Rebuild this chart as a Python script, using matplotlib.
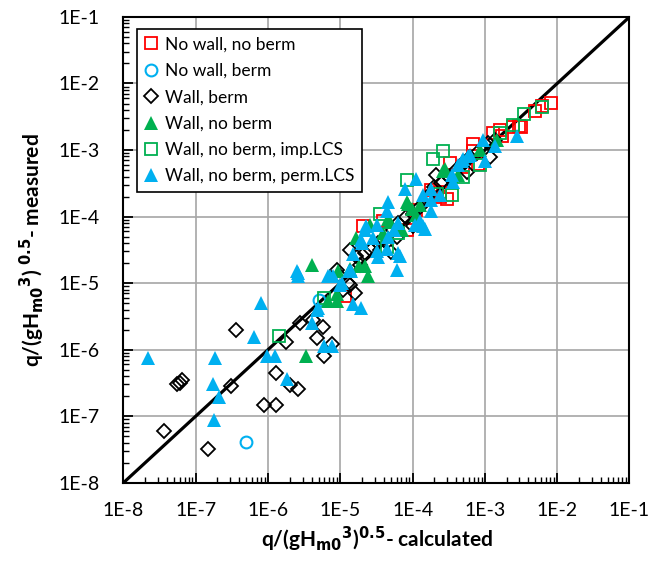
import matplotlib
matplotlib.use('Agg')
import matplotlib.pyplot as plt
import matplotlib.ticker as mticker

plt.rcParams['font.family'] = ['Lato', 'DejaVu Sans']

# No wall, no berm (red squares)
nwnb_calc = [8.3e-3, 6.2e-3, 4.9e-3, 3.2e-3, 3.0e-3, 2.45e-3, 1.6e-3, 1.7e-3, 1.3e-3,
             6.9e-4, 6.9e-4, 8.1e-4, 3.3e-4, 2.4e-4, 2.95e-4, 2.4e-4, 3.9e-5, 2.05e-5,
             8.3e-5, 1.15e-5, 1.1e-4, 5.0e-4, 1.8e-4]
nwnb_meas = [5.1e-3, 4.6e-3, 3.8e-3, 2.2e-3, 2.3e-3, 2.2e-3, 2.0e-3, 1.6e-3, 1.8e-3,
             1.23e-3, 9.8e-4, 6.2e-4, 6.4e-4, 2.35e-4, 1.85e-4, 1.95e-4, 8.7e-5, 7.1e-5,
             6.3e-5, 6.3e-6, 1.26e-4, 5.6e-4, 2.5e-4]

# No wall, berm (light blue circles)
nwb_calc = [4.9e-7, 5.1e-6]
nwb_meas = [4.1e-8, 5.6e-6]

# Wall, berm (black diamonds)
wb_calc = [5.5e-8, 6.0e-8, 6.5e-8, 3.6e-8, 1.5e-7, 3.1e-7, 3.6e-7, 8.7e-7, 1.3e-6,
           1.3e-6, 1.8e-6, 2.0e-6, 2.6e-6, 2.75e-6, 4.2e-6, 5.7e-6, 4.7e-6, 7.6e-6,
           6.0e-6, 1.35e-5, 1.6e-5, 2.2e-5, 2.7e-5, 3.3e-5, 3.5e-5, 4.0e-5, 5.4e-5,
           6.0e-5, 6.3e-5, 8.0e-5, 1.0e-4, 1.25e-4, 1.6e-4, 2.0e-4, 2.5e-4, 3.2e-4,
           4.0e-4, 5.0e-4, 6.3e-4, 7.9e-4, 1.17e-3, 5.6e-4, 2.1e-4, 1.26e-5, 1.0e-5,
           1.1e-5, 5.0e-5, 1.0e-4, 1.1e-3, 1.4e-3, 8.9e-6, 1.35e-5, 1.66e-5, 1.86e-5]
wb_meas = [3.0e-7, 3.2e-7, 3.5e-7, 6.0e-8, 3.2e-8, 2.8e-7, 1.95e-6, 1.5e-7, 1.5e-7,
           4.4e-7, 1.3e-6, 2.9e-7, 2.6e-7, 2.5e-6, 2.8e-6, 2.2e-6, 1.5e-6, 1.2e-6,
           8.1e-7, 9.3e-6, 7.0e-6, 2.8e-5, 3.2e-5, 4.0e-5, 3.2e-5, 4.5e-5, 6.3e-5,
           5.0e-5, 7.9e-5, 1.0e-4, 1.1e-4, 1.4e-4, 2.0e-4, 2.8e-4, 3.2e-4, 4.0e-4,
           5.0e-4, 6.3e-4, 7.9e-4, 8.9e-4, 7.8e-4, 4.7e-4, 4.2e-4, 1.0e-5, 1.26e-5,
           7.9e-6, 2.9e-5, 7.1e-5, 1.26e-3, 1.41e-3, 1.6e-5, 3.2e-5, 2.6e-5, 1.86e-5]

# Wall, no berm (green triangles)
wnb_calc = [3.4e-6, 4.1e-6, 9.3e-6, 6.8e-6, 8.9e-6, 8.3e-5, 4.8e-5, 2.2e-5, 2.4e-5,
            2.6e-4, 8.5e-4, 1.45e-3, 8.7e-5, 9.8e-5, 1.1e-4, 2.6e-5, 1.65e-5, 3.9e-5,
            7.1e-5, 1.35e-5, 1.8e-5, 2.8e-4, 4.3e-4, 8.9e-6, 4.6e-5, 6.6e-5, 1.26e-4]
wnb_meas = [8.1e-7, 1.9e-5, 1.5e-5, 5.4e-6, 5.4e-6, 1.65e-4, 8.3e-5, 1.8e-5, 1.26e-5,
            4.9e-4, 1.0e-3, 1.4e-3, 1.55e-4, 1.3e-4, 1.05e-4, 7.4e-5, 4.7e-5, 5.6e-5,
            6.3e-5, 1.65e-5, 1.8e-5, 5.2e-4, 4.2e-4, 6.8e-6, 9.3e-5, 6.6e-5, 1.48e-4]

# Wall, no berm, imp.LCS (green squares)
imp_calc = [6.2e-3, 3.5e-3, 2.45e-3, 1.6e-3, 2.6e-4, 1.9e-4, 8.5e-4, 3.5e-4, 2.15e-4,
            8.3e-5, 3.5e-5, 4.4e-5, 6.0e-6, 1.4e-6, 6.3e-5, 5.0e-4]
imp_meas = [4.4e-3, 3.5e-3, 2.35e-3, 1.8e-3, 9.8e-4, 7.4e-4, 5.9e-4, 2.1e-4, 2.2e-4,
            3.5e-4, 1.1e-4, 3.5e-5, 6.0e-6, 1.6e-6, 5.6e-5, 4.0e-4]

# Wall, no berm, perm.LCS (light blue triangles)
perm_calc = [2.2e-8, 1.85e-7, 1.75e-7, 2.1e-7, 1.8e-7, 6.3e-7, 8.0e-7, 9.8e-7, 1.23e-6,
             1.85e-6, 2.5e-6, 2.6e-6, 6.8e-6, 1.35e-5, 9.8e-6, 1.5e-5, 2.0e-5, 1.5e-5,
             1.95e-5, 4.7e-6, 4.0e-6, 6.0e-6, 7.6e-6, 4.6e-5, 4.4e-5, 1.4e-4, 1.8e-4,
             2.4e-4, 3.2e-5, 2.2e-5, 2.8e-5, 4.6e-5, 5.6e-5, 6.3e-5, 4.4e-5, 6.6e-5,
             6.0e-5, 1.3e-5, 1.07e-4, 1.5e-4, 1.26e-4, 9.5e-4, 1.4e-3, 1.0e-3, 6.2e-4,
             5.0e-4, 4.3e-4, 3.5e-4, 3.6e-4, 2.8e-3, 1.1e-4, 7.8e-5, 1.8e-4, 4.8e-4,
             5.9e-4, 1.8e-4, 1.4e-4, 2.3e-5, 3.2e-5, 6.3e-5, 7.9e-6, 1.4e-5, 1.05e-5,
             1.95e-5, 3.3e-5, 7.1e-6, 4.9e-6, 2.6e-6]
perm_meas = [7.4e-7, 7.4e-7, 3.1e-7, 1.95e-7, 8.7e-8, 1.55e-6, 5.1e-6, 7.9e-7, 7.9e-7,
             3.6e-7, 1.5e-5, 1.3e-5, 1.3e-5, 1.5e-5, 9.4e-6, 2.7e-5, 4.0e-5, 4.8e-6,
             4.3e-6, 4.0e-6, 2.5e-6, 1.15e-6, 1.15e-6, 1.65e-4, 1.23e-4, 2.1e-4, 1.75e-4,
             2.1e-4, 7.4e-5, 6.3e-5, 4.7e-5, 5.0e-5, 6.3e-5, 7.9e-5, 3.3e-5, 2.6e-5,
             1.6e-5, 1.5e-5, 7.4e-5, 6.6e-5, 8.7e-5, 1.4e-3, 1.15e-3, 6.9e-4, 8.3e-4,
             7.4e-4, 5.9e-4, 4.2e-4, 3.3e-4, 1.65e-3, 3.7e-4, 2.6e-4, 2.6e-4, 6.9e-4,
             8.1e-4, 1.2e-4, 7.1e-5, 7.1e-5, 3.0e-5, 2.8e-5, 1.3e-5, 1.5e-5, 1.0e-5,
             4.5e-5, 2.5e-5, 1.3e-5, 4.3e-6, 1.4e-5]

axis_lo, axis_hi = 1e-8, 1e-1
tick_vals = [1e-8, 1e-7, 1e-6, 1e-5, 1e-4, 1e-3, 1e-2, 1e-1]
tick_labels = ['1E-8', '1E-7', '1E-6', '1E-5', '1E-4', '1E-3', '1E-2', '1E-1']

fig = plt.figure(figsize=(6.53, 5.64), dpi=100)
ax = fig.add_axes([0.189, 0.144, 0.775, 0.826])

# 1:1 line
ax.plot([axis_lo, axis_hi], [axis_lo, axis_hi], color='black', lw=2.3, zorder=2)

ax.plot(nwnb_calc, nwnb_meas, ls='none', marker='s', ms=8.5, mfc='none', mec='#ff0000',
        mew=1.3, label='No wall, no berm', zorder=3)
ax.plot(nwb_calc, nwb_meas, ls='none', marker='o', ms=8.5, mfc='none', mec='#00b0f0',
        mew=1.5, label='No wall, berm', zorder=3)
ax.plot(wb_calc, wb_meas, ls='none', marker='D', ms=7.3, mfc='none', mec='black',
        mew=1.3, label='Wall, berm', zorder=3)
ax.plot(wnb_calc, wnb_meas, ls='none', marker='^', ms=10, mfc='#00b050', mec='#00b050',
        mew=0, label='Wall, no berm', zorder=3)
ax.plot(imp_calc, imp_meas, ls='none', marker='s', ms=8.5, mfc='none', mec='#00b050',
        mew=1.3, label='Wall, no berm, imp.LCS', zorder=3)
ax.plot(perm_calc, perm_meas, ls='none', marker='^', ms=10, mfc='#00b0f0', mec='#00b0f0',
        mew=0, label='Wall, no berm, perm.LCS', zorder=3)

ax.set_xscale('log')
ax.set_yscale('log')
ax.set_xlim(axis_lo, axis_hi)
ax.set_ylim(axis_lo, axis_hi)
ax.set_xticks(tick_vals)
ax.set_xticklabels(tick_labels)
ax.set_yticks(tick_vals)
ax.set_yticklabels(tick_labels)
ax.xaxis.set_minor_locator(mticker.LogLocator(base=10, subs=range(2, 10), numticks=20))
ax.yaxis.set_minor_locator(mticker.LogLocator(base=10, subs=range(2, 10), numticks=20))
ax.xaxis.set_minor_formatter(mticker.NullFormatter())
ax.yaxis.set_minor_formatter(mticker.NullFormatter())
ax.tick_params(which='major', direction='in', length=7, width=1.3, labelsize=14, pad=17)
ax.tick_params(which='minor', direction='in', length=4, width=1.0)
ax.tick_params(axis='x', which='major', pad=14)

ax.grid(which='major', color='#a6a6a6', lw=1.2, zorder=0)
ax.set_axisbelow(True)
for s in ax.spines.values():
    s.set_linewidth(1.5)
    s.set_color('black')

ax.set_xlabel(r'q/(gH$_{\mathbf{m0}}$$^{\mathbf{3}}$)$^{\mathbf{0.5}}$- calculated',
              fontsize=15, fontweight='bold', labelpad=4)
ax.set_ylabel(r'q/(gH$_{\mathbf{m0}}$$^{\mathbf{3}}$) $^{\mathbf{0.5}}$- measured',
              fontsize=15, fontweight='bold', labelpad=8)

leg = ax.legend(loc='upper left', bbox_to_anchor=(0.026, 0.975), fontsize=12.5,
                frameon=True, fancybox=False, edgecolor='black', framealpha=1,
                handlelength=0.8, handletextpad=0.4, labelspacing=0.6,
                borderpad=0.45, borderaxespad=0)
leg.get_frame().set_linewidth(1.2)

plt.savefig('out.png', dpi=100)
